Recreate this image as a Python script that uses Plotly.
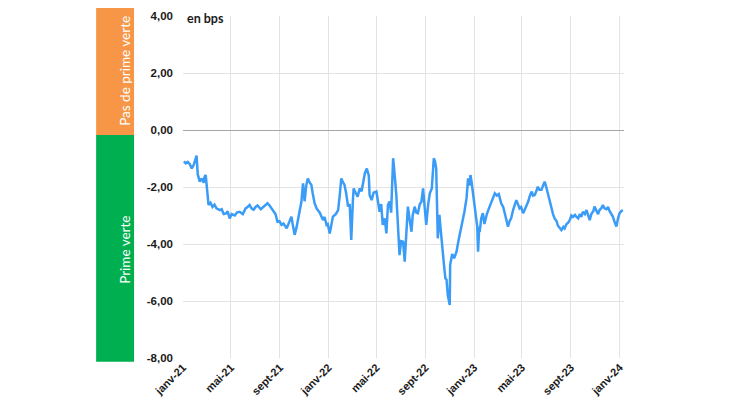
import plotly.graph_objects as go

# Données (prime verte, en bps)
dates = [
    "2021-01-03", "2021-01-08", "2021-01-13", "2021-01-18", "2021-01-23", "2021-01-28",
    "2021-02-04", "2021-02-07", "2021-02-12", "2021-02-17", "2021-02-22", "2021-02-24",
    "2021-02-27", "2021-03-03", "2021-03-06", "2021-03-11", "2021-03-16", "2021-03-21",
    "2021-03-26", "2021-04-03", "2021-04-08", "2021-04-13", "2021-04-20", "2021-04-23",
    "2021-04-28", "2021-05-03", "2021-05-11", "2021-05-16", "2021-05-23", "2021-05-31",
    "2021-06-07", "2021-06-12", "2021-06-17", "2021-06-22", "2021-06-27", "2021-07-02",
    "2021-07-07", "2021-07-15", "2021-07-22", "2021-07-27", "2021-08-01", "2021-08-06",
    "2021-08-14", "2021-08-21", "2021-08-26", "2021-08-31", "2021-09-05", "2021-09-10",
    "2021-09-18", "2021-09-23", "2021-09-30", "2021-10-03", "2021-10-08", "2021-10-13",
    "2021-10-16", "2021-10-21", "2021-10-25", "2021-10-29", "2021-11-02", "2021-11-06",
    "2021-11-10", "2021-11-15", "2021-11-19", "2021-11-22", "2021-11-27", "2021-12-02",
    "2021-12-10", "2021-12-18", "2021-12-22", "2021-12-27", "2021-12-30",
    "2022-01-04", "2022-01-08", "2022-01-12", "2022-01-19", "2022-01-25", "2022-01-29",
    "2022-02-02", "2022-02-05", "2022-02-10", "2022-02-14", "2022-02-19", "2022-02-23",
    "2022-02-27", "2022-03-03", "2022-03-05", "2022-03-10", "2022-03-15", "2022-03-20",
    "2022-03-25", "2022-04-02", "2022-04-07", "2022-04-12", "2022-04-14", "2022-04-19",
    "2022-04-24", "2022-05-01", "2022-05-05", "2022-05-09", "2022-05-13", "2022-05-17",
    "2022-05-22", "2022-05-26", "2022-05-30", "2022-06-03", "2022-06-07", "2022-06-12",
    "2022-06-16", "2022-06-20", "2022-06-24", "2022-06-28", "2022-07-02", "2022-07-07",
    "2022-07-11", "2022-07-15", "2022-07-19", "2022-07-23", "2022-07-28", "2022-07-31",
    "2022-08-05", "2022-08-09", "2022-08-13", "2022-08-18", "2022-08-22", "2022-08-26",
    "2022-08-30", "2022-09-03", "2022-09-08", "2022-09-12", "2022-09-17", "2022-09-22",
    "2022-09-25", "2022-09-28", "2022-10-02", "2022-10-06", "2022-10-10", "2022-10-15",
    "2022-10-18", "2022-10-21", "2022-10-24", "2022-10-27", "2022-11-01", "2022-11-02",
    "2022-11-07", "2022-11-12", "2022-11-18", "2022-11-22", "2022-11-26", "2022-11-30",
    "2022-12-04", "2022-12-08", "2022-12-13", "2022-12-17", "2022-12-20", "2022-12-23",
    "2022-12-26", "2022-12-30",
    "2023-01-03", "2023-01-07", "2023-01-09", "2023-01-11", "2023-01-14", "2023-01-15",
    "2023-01-19", "2023-01-23", "2023-01-27", "2023-02-02", "2023-02-09", "2023-02-15",
    "2023-02-22", "2023-02-27", "2023-03-04", "2023-03-10", "2023-03-15", "2023-03-19",
    "2023-03-22", "2023-03-27", "2023-03-31", "2023-04-04", "2023-04-09", "2023-04-17",
    "2023-04-21", "2023-04-25", "2023-04-29", "2023-05-04", "2023-05-08", "2023-05-12",
    "2023-05-17", "2023-05-20", "2023-05-25", "2023-05-29", "2023-06-02", "2023-06-06",
    "2023-06-10", "2023-06-14", "2023-06-19", "2023-06-23", "2023-06-27", "2023-07-01",
    "2023-07-05", "2023-07-10", "2023-07-14", "2023-07-18", "2023-07-22", "2023-07-27",
    "2023-07-30", "2023-08-04", "2023-08-08", "2023-08-13", "2023-08-16", "2023-08-21",
    "2023-08-25", "2023-08-29", "2023-09-02", "2023-09-06", "2023-09-11", "2023-09-15",
    "2023-09-19", "2023-09-23", "2023-09-27", "2023-10-01", "2023-10-06", "2023-10-10",
    "2023-10-14", "2023-10-18", "2023-10-22", "2023-10-27", "2023-10-30", "2023-11-04",
    "2023-11-08", "2023-11-12", "2023-11-16", "2023-11-20", "2023-11-24", "2023-11-29",
    "2023-12-03", "2023-12-07", "2023-12-11", "2023-12-15", "2023-12-20", "2023-12-24",
    "2023-12-28", "2024-01-01", "2024-01-05", "2024-01-09",
]
prime = [
    -1.10, -1.17, -1.12, -1.20, -1.35, -1.22,
    -0.90, -1.55, -1.81, -1.70, -1.85, -1.64,
    -1.58, -2.10, -2.63, -2.55, -2.70, -2.62,
    -2.75, -2.81, -2.78, -2.95, -2.92, -2.85,
    -3.10, -2.95, -3.00, -2.90, -2.87, -2.95,
    -2.75, -2.70, -2.63, -2.75, -2.80, -2.70,
    -2.65, -2.78, -2.68, -2.62, -2.57, -2.65,
    -2.81, -2.95, -3.22, -3.20, -3.33, -3.28,
    -3.45, -3.30, -3.04, -3.30, -3.68, -3.40,
    -3.16, -2.90, -2.51, -1.87, -2.50, -1.95,
    -1.70, -1.85, -1.93, -2.20, -2.57, -2.75,
    -2.90, -3.16, -3.05, -3.33, -3.30,
    -3.63, -3.35, -3.04, -2.95, -2.81, -2.30,
    -1.70, -1.80, -1.93, -2.20, -2.69, -2.60,
    -3.86, -2.50, -2.05, -2.20, -2.34, -2.05,
    -2.15, -1.52, -1.35, -1.60, -2.28, -2.46,
    -2.20, -2.16, -2.50, -2.87, -2.60, -3.33,
    -3.10, -3.63, -2.63, -2.51, -2.90, -0.99,
    -1.60, -2.28, -3.33, -4.39, -3.90, -3.92,
    -4.62, -3.68, -2.69, -3.10, -3.57, -3.00,
    -2.69, -2.90, -2.92, -2.60, -2.51, -2.05,
    -2.70, -3.33, -2.60, -2.22, -2.05, -0.99,
    -1.10, -1.35, -3.80, -2.98, -3.60, -4.50,
    -4.80, -5.20, -5.25, -5.79, -6.14, -4.74,
    -4.35, -4.50, -4.27, -3.95, -3.68, -3.50,
    -3.10, -2.85, -2.40, -1.70, -1.95, -1.58,
    -1.85, -2.28,
    -2.80, -3.33, -3.40, -4.27, -3.40, -3.57,
    -3.10, -2.92, -3.30, -2.95, -2.69, -2.45,
    -2.22, -2.30, -2.25, -2.57, -2.70, -2.92,
    -3.10, -3.39, -3.20, -3.10, -2.80, -2.46,
    -2.60, -2.75, -2.70, -2.92, -2.80, -2.69,
    -2.50, -2.35, -2.16, -2.30, -2.28, -2.15,
    -1.99, -2.10, -2.10, -1.95, -1.81, -2.00,
    -2.22, -2.55, -2.81, -2.95, -3.10, -3.20,
    -3.35, -3.45, -3.51, -3.40, -3.45, -3.30,
    -3.25, -3.16, -3.00, -3.05, -2.98, -3.05,
    -3.10, -2.95, -3.05, -2.87, -2.95, -2.81,
    -3.00, -3.16, -2.95, -2.85, -2.69, -2.85,
    -2.95, -2.80, -2.75, -2.63, -2.75, -2.78,
    -2.70, -2.85, -2.95, -3.04, -3.25, -3.39,
    -3.10, -2.92, -2.85, -2.81,
]

tick_dates = ["2021-01-01", "2021-05-01", "2021-09-01", "2022-01-01", "2022-05-01",
              "2022-09-01", "2023-01-01", "2023-05-01", "2023-09-01", "2024-01-01"]
tick_labels = ["janv-21", "mai-21", "sept-21", "janv-22", "mai-22",
               "sept-22", "janv-23", "mai-23", "sept-23", "janv-24"]
y_ticks = [4, 2, 0, -2, -4, -6, -8]
y_labels = ["4,00", "2,00", "0,00", "-2,00", "-4,00", "-6,00", "-8,00"]

fig = go.Figure()

fig.add_trace(go.Scatter(x=dates, y=prime, mode="lines",
                         line=dict(color="#3a9cf7", width=2.5),
                         showlegend=False, hoverinfo="x+y"))

# bandes de couleur à gauche (en coordonnées papier : 0 = -8, 1 = 4)
fig.add_shape(type="rect", xref="paper", yref="paper", x0=-0.197, x1=-0.111,
              y0=0.652, y1=1.03, fillcolor="#f79646", line_width=0, layer="below")
fig.add_shape(type="rect", xref="paper", yref="paper", x0=-0.197, x1=-0.111,
              y0=-0.011, y1=0.652, fillcolor="#00b050", line_width=0, layer="below")

fig.add_annotation(x=-0.154, xref="paper", y=2.08, yref="y", text="Pas de prime verte",
                   textangle=-90, showarrow=False,
                   font=dict(family="Lato", size=13.5, color="white"))
fig.add_annotation(x=-0.154, xref="paper", y=-4.2, yref="y", text="Prime verte",
                   textangle=-90, showarrow=False,
                   font=dict(family="Lato", size=13.5, color="white"))
fig.add_annotation(x=0.005, xref="paper", y=1.0, yref="paper", yanchor="top",
                   xanchor="left", text="<b>en bps</b>", showarrow=False, yshift=7,
                   font=dict(family="Lato", size=12.5, color="#1a1a1a"))

fig.update_layout(
    width=730, height=410,
    margin=dict(l=175, r=114, t=8, b=60),
    plot_bgcolor="white", paper_bgcolor="white",
    font=dict(family="Liberation Sans", color="#1a1a1a"),
    xaxis=dict(
        range=["2021-01-01", "2024-01-12"], automargin=False,
        tickvals=tick_dates, ticktext=tick_labels, tickangle=-45,
        tickfont=dict(family="Liberation Sans", size=11, color="#1a1a1a", weight="bold"),
        showgrid=True, gridcolor="#e3e3e3", gridwidth=1,
        showline=False, zeroline=False, ticks="",
    ),
    yaxis=dict(
        range=[-8, 4], automargin=False, tickvals=y_ticks, ticktext=y_labels,
        tickfont=dict(family="Liberation Sans", size=11.5, color="#1a1a1a", weight="bold"),
        showgrid=True, gridcolor="#e3e3e3", gridwidth=1,
        zeroline=True, zerolinecolor="#a6a6a6", zerolinewidth=1.2,
        showline=False, ticks="", ticklabelstandoff=9,
    ),
)

fig.write_html("out.html")
